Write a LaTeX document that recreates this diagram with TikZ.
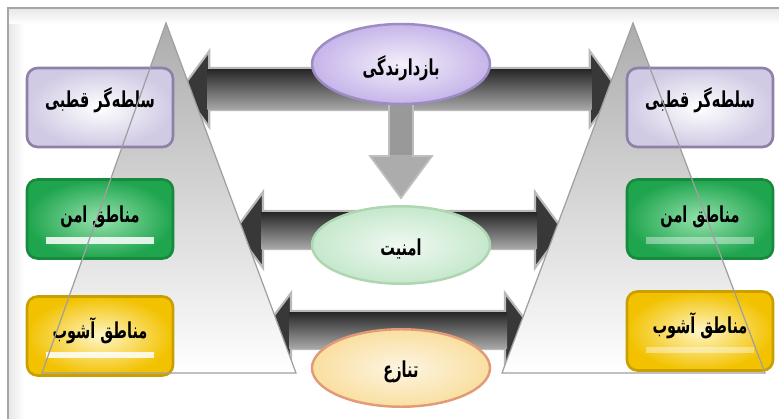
\documentclass[tikz,border=0pt]{standalone}
\usepackage{fontspec}
\newfontfamily\farsi[Script=Arabic,FakeStretch=0.66]{DejaVu Sans}
\TeXXeTstate=1
\usepackage{tikz}
\usetikzlibrary{shapes.geometric}
\usetikzlibrary{positioning}
\usetikzlibrary{calc}

\pgfdeclarelayer{background}
\pgfsetlayers{background,main}

\definecolor{lavbox}{RGB}{208,202,228}
\definecolor{lavline}{RGB}{143,128,168}
\definecolor{grnbox}{RGB}{31,165,78}
\definecolor{grnin}{RGB}{150,225,172}
\definecolor{grnline}{RGB}{23,138,62}
\definecolor{ylwbox}{RGB}{242,194,0}
\definecolor{ylwin}{RGB}{255,246,200}
\definecolor{ylwline}{RGB}{201,160,0}
\definecolor{ellpur}{RGB}{198,180,233}
\definecolor{ellpurline}{RGB}{156,140,196}
\definecolor{ellgrn}{RGB}{197,232,204}
\definecolor{ellgrnline}{RGB}{174,214,176}
\definecolor{ellorg}{RGB}{249,223,160}
\definecolor{ellorgline}{RGB}{227,155,119}

\begin{document}
\begin{tikzpicture}[x=0.02cm,y=-0.02cm,
	box/.style={draw,rectangle,rounded corners=6pt,line width=1.5pt,
		minimum width=2.92cm,minimum height=1.58cm,
		font=\farsi\bfseries\fontsize{12.5}{14}\selectfont},
	polbox/.style={box,draw=lavline,inner color=white,outer color=lavbox},
	safebox/.style={box,draw=grnline,inner color=grnin,outer color=grnbox},
	riotbox/.style={box,draw=ylwline,inner color=ylwin,outer color=ylwbox},
	oval/.style={draw,ellipse,line width=1.4pt,minimum width=3.56cm,minimum height=1.55cm,
		font=\farsi\bfseries\fontsize{12.5}{14}\selectfont},
	bar/.style={fill=black!78,draw=gray!55,line width=1.2pt,line join=miter},
	barcore/.style={top color=black!85,middle color=gray!55,bottom color=gray!70},
	stem/.style={fill=gray!65,draw=gray!50,line width=1pt,line join=miter},
	stemcore/.style={left color=gray!80,middle color=gray!40,right color=gray!80},
	tri/.style={top color=gray!65,bottom color=white,draw=none},
	glow/.style={fill=white,opacity=.85},
	]
	\useasboundingbox (0,0) rectangle (779,419);

	% Frame
	% ----------
	\shade[top color=gray!18,bottom color=white] (9,9) rectangle (779,24);
	\shade[left color=gray!18,right color=white] (9,24) rectangle (24,419);
	\draw[gray!70,line width=1.2pt] (8,419) -- (8,8) -- (779,8);

	% triangles
	\shade[tri] (166,23) -- (42,373) -- (296,373) -- cycle;
	\shade[tri] (633,23) -- (502,373) -- (765,373) -- cycle;

	% left column
	\node[polbox] (LPol) at (100,107.5) {\raisebox{.14cm}[\height][\depth]{\beginR سلطه‌گر قطبی\endR}};
	\node[safebox] (LSafe) at (100,219) {\raisebox{.05cm}[\height][\depth]{\beginR مناطق امن\endR}};
	\node[riotbox] (LRiot) at (100,336) {\raisebox{.1cm}[\height][\depth]{\beginR مناطق آشوب\endR}};
	\fill[glow] ($(LSafe.south west)+(20,-16)$) rectangle ($(LSafe.south east)+(-20,-23)$);
	\fill[glow] ($(LRiot.south west)+(20,-19)$) rectangle ($(LRiot.south east)+(-20,-25)$);

	% right column
	\node[polbox] (RPol) at (700,107.5) {\raisebox{.14cm}[\height][\depth]{\beginR سلطه‌گر قطبی\endR}};
	\node[safebox] (RSafe) at (700,219) {\raisebox{.05cm}[\height][\depth]{\beginR مناطق امن\endR}};
	\node[riotbox] (RRiot) at (700,331) {\raisebox{.1cm}[\height][\depth]{\beginR مناطق آشوب\endR}};
	\fill[glow,opacity=.4] ($(RSafe.south west)+(20,-16)$) rectangle ($(RSafe.south east)+(-20,-23)$);
	\fill[glow,opacity=.4] ($(RRiot.south west)+(20,-19)$) rectangle ($(RRiot.south east)+(-20,-25)$);

	% triangle edges over the boxes
	\draw[gray!75,line width=0.7pt] (166,23) -- (42,373) -- (296,373) -- cycle;
	\draw[gray!75,line width=0.7pt] (633,23) -- (502,373) -- (765,373) -- cycle;

	% centre column
	\node[oval,draw=ellpurline,inner color=white!80!ellpur,outer color=ellpur,
		  minimum height=1.6cm] (Det) at (401,64) {\raisebox{-.08cm}[\height][\depth]{\beginR بازدارندگی\endR}};
	\node[oval,draw=ellgrnline,inner color=white!75!ellgrn,outer color=ellgrn] (Sec) at (401,245) {\raisebox{-.08cm}[\height][\depth]{\beginR امنیت\endR}};
	\node[oval,draw=ellorgline,inner color=white!70!ellorg,outer color=ellorg] (Conf) at (401,368) {\raisebox{-.08cm}[\height][\depth]{\beginR تنازع\endR}};

	% block arrows (behind the ovals)
	\begin{pgfonlayer}{background}
	\coordinate (aL) at ($(LPol.east)+(7,-18.5)$);
	\coordinate (aR) at ($(RPol.west)+(-8,-18.5)$);
	\filldraw[bar] (aL) -- ++(28,-38) -- ++(0,17) -- ($(aR)+(-28,-21)$) -- ++(0,-17) -- (aR)
		-- ++(-28,38) -- ++(0,-17) -- ($(aL)+(28,21)$) -- ++(0,17) -- cycle;
	\shade[barcore] ($(aL)+(26,-20)$) rectangle ($(aR)+(-26,20)$);

	\coordinate (bL) at (235,230);
	\coordinate (bR) at (563,230);
	\filldraw[bar] (bL) -- ++(28,-38) -- ++(0,19) -- ($(bR)+(-28,-19)$) -- ++(0,-19) -- (bR)
		-- ++(-28,38) -- ++(0,-19) -- ($(bL)+(28,19)$) -- ++(0,19) -- cycle;
	\shade[barcore] ($(bL)+(26,-18)$) rectangle ($(bR)+(-26,18)$);

	\coordinate (cL) at (263,330);
	\coordinate (cR) at (533,330);
	\filldraw[bar] (cL) -- ++(28,-37) -- ++(0,18) -- ($(cR)+(-28,-19)$) -- ++(0,-18) -- (cR)
		-- ++(-28,37) -- ++(0,-18) -- ($(cL)+(28,19)$) -- ++(0,18) -- cycle;
	\shade[barcore] ($(cL)+(26,-18)$) rectangle ($(cR)+(-26,18)$);

	\coordinate (dTop) at ($(Det.south)+(0,-6)$);
	\coordinate (dTip) at ($(Sec.north)+(0,-7)$);
	\filldraw[stem] ($(dTop)+(-12,0)$) -- ($(dTip)+(-12,-42)$) -- ++(-19,0) -- (dTip)
		-- ++(31,-42) -- ++(-19,0) -- ($(dTop)+(12,0)$) -- cycle;
	\shade[stemcore] ($(dTop)+(-11,0)$) rectangle ($(dTip)+(11,-44)$);
	\end{pgfonlayer}
\end{tikzpicture}
\end{document}
